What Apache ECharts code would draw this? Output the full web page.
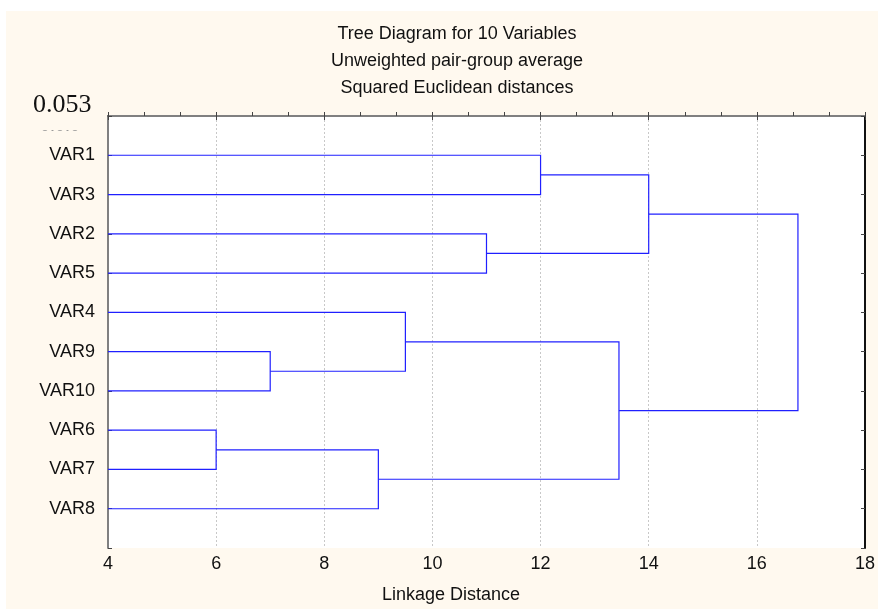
<!DOCTYPE html>
<html>
<head>
<meta charset="utf-8">
<script src="https://cdn.jsdelivr.net/npm/echarts@6/dist/echarts.min.js"></script>
<style>
  html, body { margin: 0; padding: 0; background: #fff; }
  #main { width: 878px; height: 609px; }
</style>
</head>
<body>
<div id="main"></div>
<script>
var myChart = echarts.init(document.getElementById('main'));

// leaf order from top to bottom
var leafNames = ['VAR1', 'VAR3', 'VAR2', 'VAR5', 'VAR4', 'VAR9', 'VAR10', 'VAR6', 'VAR7', 'VAR8'];
// joins: ids 0..9 are leaves, each join makes a new id (10, 11, ...)
var joinA = [7, 5, 10, 4, 2, 0, 13, 15, 17];
var joinB = [8, 6, 9, 11, 3, 1, 12, 14, 16];
var joinHeight = [6.0, 7.0, 9.0, 9.5, 11.0, 12.0, 13.45, 14.0, 16.76];
var xTicks = [4, 6, 8, 10, 12, 14, 16, 18];

// position and height of every node
var nodePos = leafNames.map(function (n, i) { return i + 1; });
var nodeHeight = leafNames.map(function () { return 0; });
var links = [];
for (var i = 0; i < joinA.length; i++) {
    var a = joinA[i], b = joinB[i];
    links.push([joinHeight[i], nodePos[a], nodePos[b], nodeHeight[a], nodeHeight[b]]);
    nodePos.push((nodePos[a] + nodePos[b]) / 2);
    nodeHeight.push(joinHeight[i]);
}

var font = 'Liberation Sans';
var beige = '#fff9ef';

option = {
    backgroundColor: '#ffffff',
    animation: false,
    title: {
        text: 'Tree Diagram for 10 Variables\nUnweighted pair-group average\nSquared Euclidean distances',
        left: 452,
        top: 16,
        textAlign: 'center',
        textStyle: { fontFamily: font, fontSize: 18, fontWeight: 'normal', color: '#111', lineHeight: 27 }
    },
    graphic: [
        { type: 'rect', z: -10, shape: { x: 6, y: 11, width: 872, height: 598 }, style: { fill: beige } },
        { type: 'text', z: -5, left: 33, top: 92, style: { text: '0.053', font: '26px "Liberation Serif"', fill: '#111' } },
        { type: 'text', z: -5, left: 40, top: 116, style: { text: '0.0.0', font: '20px "Liberation Serif"', fill: '#999' } },
        { type: 'rect', z: -4, shape: { x: 30, y: 114, width: 72, height: 16 }, style: { fill: beige } },
        { type: 'text', z: 5, x: 451, y: 595, style: { text: 'Linkage Distance', font: '18px "Liberation Sans"', fill: '#111', align: 'center', verticalAlign: 'middle' } }
    ],
    grid: {
        left: 108, right: 12, top: 116, bottom: 61,
        show: true, backgroundColor: '#ffffff', borderWidth: 0
    },
    xAxis: [
        {
            type: 'value', position: 'bottom', min: 4, max: 18, interval: 2,
            axisLine: { lineStyle: { color: '#111', width: 2 } },
            axisTick: { inside: true, length: 4, lineStyle: { color: '#444' } },
            minorTick: { show: true, splitNumber: 3, length: 4, lineStyle: { color: '#444' } },
            axisLabel: { fontFamily: font, fontSize: 18, color: '#111', margin: 7,
                formatter: function (v) { return xTicks.indexOf(v) >= 0 ? String(v) : ''; } },
            splitLine: { show: true, lineStyle: { color: '#c8c8c8', type: [2, 2] } }
        },
        {
            type: 'value', position: 'top', min: 4, max: 18, interval: 2,
            axisLine: { lineStyle: { color: '#808080', width: 2 } },
            axisTick: { inside: true, length: 4, lineStyle: { color: '#444' } },
            axisLabel: { show: false },
            splitLine: { show: false }
        }
    ],
    yAxis: [
        {
            type: 'value', position: 'left', inverse: true, min: 0, max: 11, interval: 1,
            axisLine: { show: true, lineStyle: { color: '#808080', width: 2 } },
            axisTick: { show: true, inside: true, length: 4, lineStyle: { color: '#444' } },
            axisLabel: { fontFamily: font, fontSize: 18, color: '#111', margin: 13,
                formatter: function (v) { return leafNames[v - 1] || ''; } },
            splitLine: { show: false }
        },
        {
            type: 'value', position: 'right', inverse: true, min: 0, max: 11, interval: 1,
            axisLine: { show: true, lineStyle: { color: '#111', width: 2 } },
            axisTick: { show: true, inside: true, length: 4, lineStyle: { color: '#444' } },
            axisLabel: { show: false },
            splitLine: { show: false }
        }
    ],
    series: [
        {
            type: 'custom',
            xAxisIndex: 0,
            yAxisIndex: 0,
            clip: true,
            data: links,
            renderItem: function (params, api) {
                var p1 = api.coord([Math.max(api.value(3), 4), api.value(1)]);
                var p2 = api.coord([api.value(0), api.value(1)]);
                var p3 = api.coord([api.value(0), api.value(2)]);
                var p4 = api.coord([Math.max(api.value(4), 4), api.value(2)]);
                return {
                    type: 'polyline',
                    shape: { points: [p1, p2, p3, p4] },
                    style: { stroke: '#2020ff', lineWidth: 1.2, fill: null }
                };
            }
        }
    ]
};

myChart.setOption(option);
</script>
</body>
</html>
